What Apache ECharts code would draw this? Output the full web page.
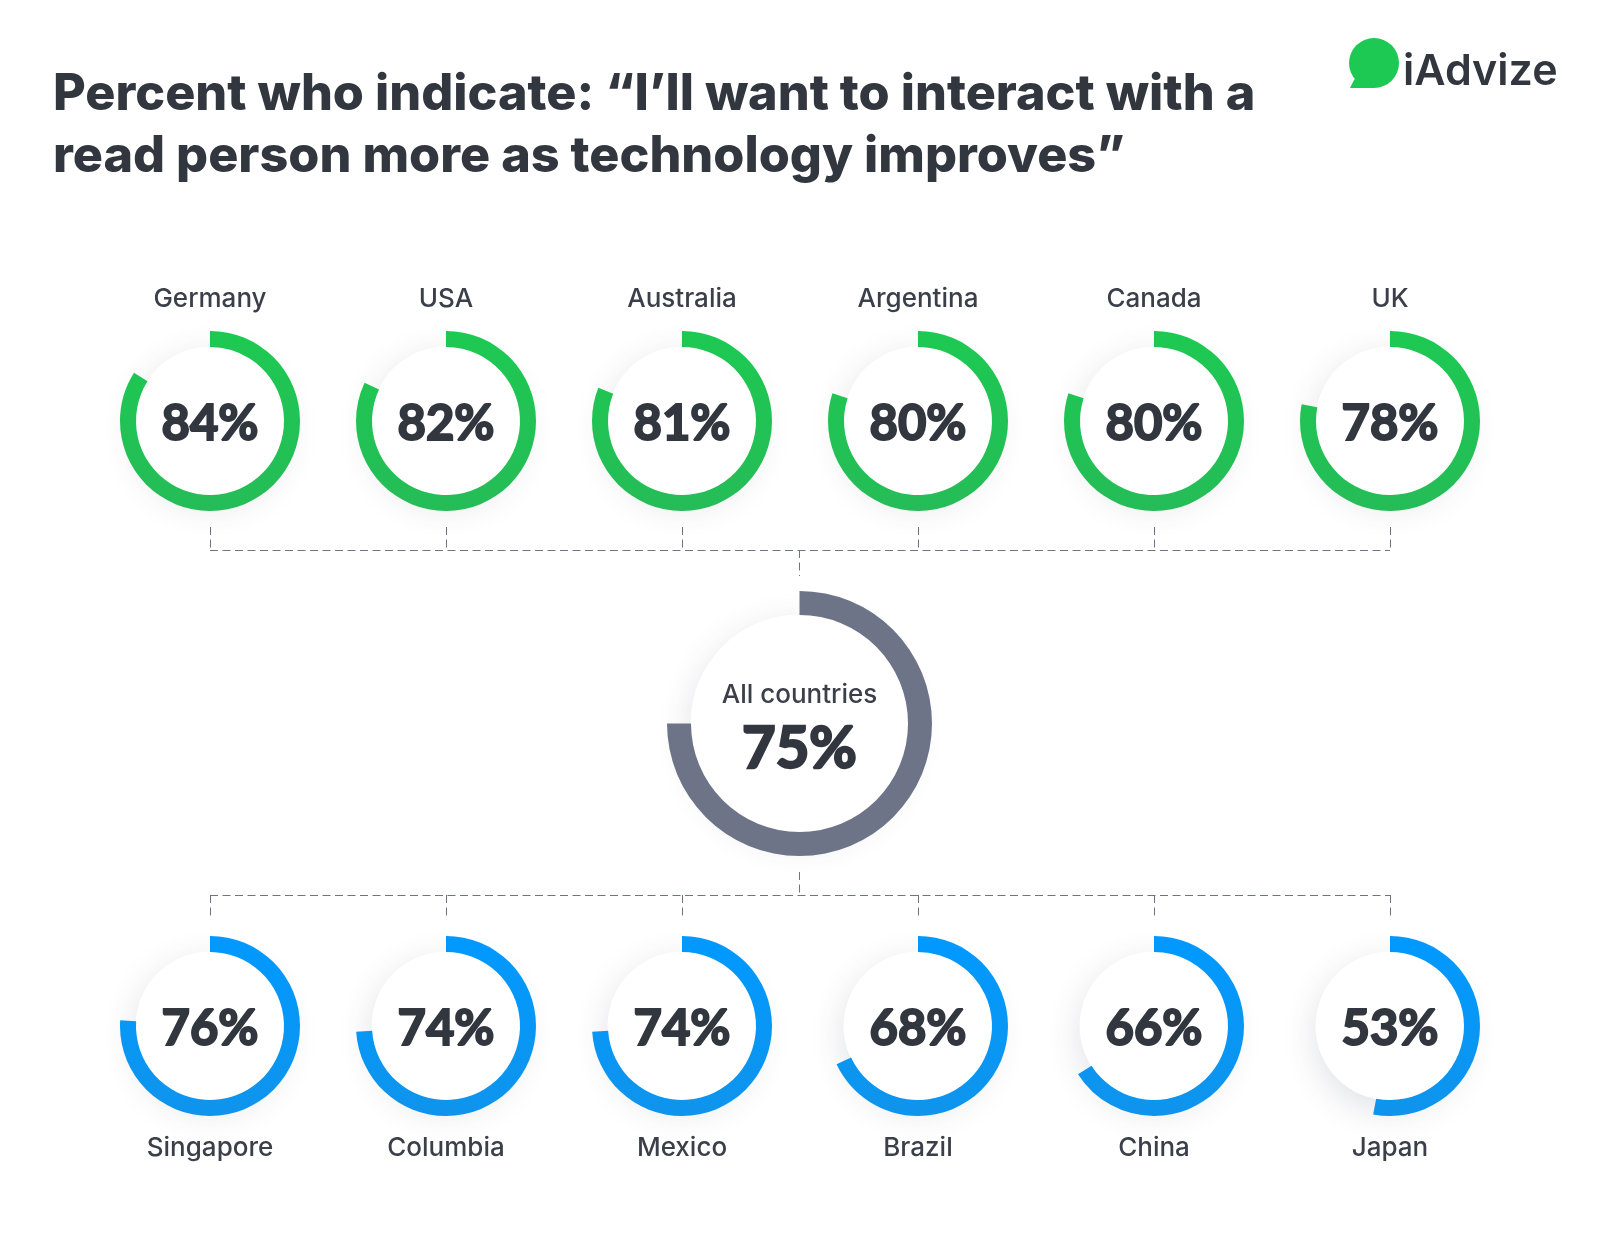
<!DOCTYPE html>
<html>
<head>
<meta charset="utf-8">
<title>iAdvize</title>
<style>
  html, body { margin: 0; padding: 0; background: #fff; }
  #chart { width: 1600px; height: 1260px; }
</style>
<script src="https://cdn.jsdelivr.net/npm/echarts@6/dist/echarts.min.js"></script>
</head>
<body>
<div id="chart"></div>
<script>
const titleLines = ['Percent who indicate: “I’ll want to interact with a', 'read person more as technology improves”'];

const topNames = ['Germany', 'USA', 'Australia', 'Argentina', 'Canada', 'UK'];
const topValues = [84, 82, 81, 80, 80, 78];
const bottomNames = ['Singapore', 'Columbia', 'Mexico', 'Brazil', 'China', 'Japan'];
const bottomValues = [76, 74, 74, 68, 66, 53];
const overallName = 'All countries';
const overallValue = 75;

const FONT = 'Inter, "Noto Sans", sans-serif';
const BOLD = 'Lato, Inter, sans-serif';
const DARK = '#32373f';
const columnX = [210, 446, 682, 918, 1154, 1390];
const topY = 421, bottomY = 1026, midX = 799.5, midY = 723.5;

const ring = (name, value, x, y, outer, inner, colors, fontSize) => ([
  // white disc with the soft shadow under it
  {
    type: 'pie', silent: true, animation: false, z: 1,
    center: [x, y], radius: [0, inner + 0.5],
    label: { show: false }, labelLine: { show: false },
    itemStyle: { color: '#fff', shadowBlur: 34, shadowOffsetY: 10, shadowColor: 'rgba(60,70,95,0.16)' },
    data: [{ value: 1, name: name + ' disc' }]
  },
  {
    type: 'pie', silent: true, animation: false, z: 2,
    center: [x, y], radius: [inner, outer], startAngle: 90, clockwise: true,
    labelLine: { show: false }, minShowLabelAngle: 0,
    label: {
      show: true, position: 'center', formatter: value + '%',
      fontFamily: BOLD, fontWeight: 700, fontSize: fontSize, color: DARK,
      textBorderColor: DARK, textBorderWidth: fontSize > 50 ? 2.4 : 2,
      offset: name === overallName ? [0, 26] : [0, 3]
    },
    data: [
      { value: value, name: name, itemStyle: { color: new echarts.graphic.LinearGradient(0, 0, 0, 1, [{ offset: 0, color: colors[0] }, { offset: 1, color: colors[1] }]) } },
      { value: 100 - value, name: 'rest', itemStyle: { color: 'transparent' }, label: { show: false } }
    ]
  }
]);

const series = [];
topNames.forEach((n, i) => series.push(...ring(n, topValues[i], columnX[i], topY, 90, 74, ['#1dc952', '#25bc57'], 49)));
bottomNames.forEach((n, i) => series.push(...ring(n, bottomValues[i], columnX[i], bottomY, 90, 74, ['#0099ff', '#0f94ec'], 49)));
series.push(...ring(overallName, overallValue, midX, midY, 132.5, 108.5, ['#6e7488', '#6e7488'], 58));

const dash = { stroke: '#6e7488', lineWidth: 1, lineDash: [8, 4.5] };
const line = (x1, y1, x2, y2) => ({ type: 'line', silent: true, z: 1, shape: { x1, y1, x2, y2 }, style: dash });
const label = (text, x, y) => ({
  type: 'text', silent: true, z: 5, x, y,
  style: { text, fontFamily: FONT, fontWeight: 500, fontSize: 26, fill: '#3a3f49', align: 'center', verticalAlign: 'middle' }
});

const graphic = [
  line(columnX[0], 550.5, columnX[5], 550.5),
  line(columnX[0], 895.5, columnX[5], 895.5),
  line(midX, 550, midX, 576),
  line(midX, 872, midX, 895)
];
columnX.forEach((x, i) => {
  graphic.push(line(x + 0.5, 527, x + 0.5, 550), line(x + 0.5, 895, x + 0.5, 920));
  graphic.push(label(topNames[i], x, 299), label(bottomNames[i], x, 1148));
});
graphic.push(label(overallName, midX, 695));

// title
titleLines.forEach((t, i) => graphic.push({
  type: 'text', silent: true, z: 5, x: 53, y: 95 + i * 62,
  style: { text: t, fontFamily: FONT, fontWeight: 800, fontSize: 50.3, fill: DARK, verticalAlign: 'middle' }
}));

// logo
graphic.push({
  type: 'circle', silent: true, z: 5, shape: { cx: 1374, cy: 63, r: 25 }, style: { fill: '#1dc952' }
});
graphic.push({
  type: 'polygon', silent: true, z: 5,
  shape: { points: [[1350, 88], [1374, 88], [1362, 70], [1354, 80]] }, style: { fill: '#1dc952' }
});
graphic.push({
  type: 'text', silent: true, z: 5, x: 1403, y: 72,
  style: { text: 'iAdvize', fontFamily: FONT, fontWeight: 600, fontSize: 43, fill: DARK, verticalAlign: 'middle' }
});

const chart = echarts.init(document.getElementById('chart'), null, { renderer: 'canvas' });
chart.setOption({ backgroundColor: '#fff', animation: false, series, graphic });
</script>
</body>
</html>
